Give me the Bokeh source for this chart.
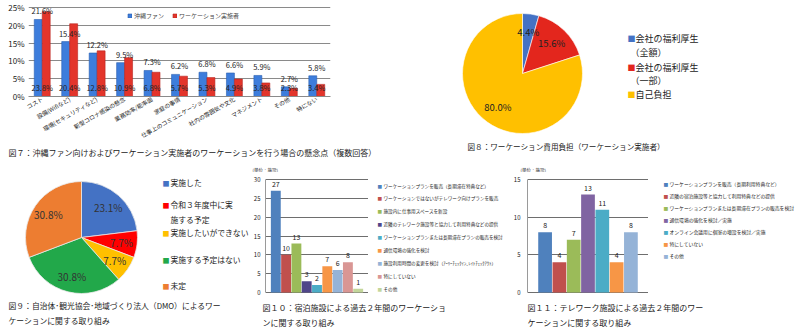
import numpy as np
import pandas as pd
from bokeh.plotting import figure
from bokeh.models import (ColumnDataSource, FactorRange, Range1d, Label, Legend, LegendItem,
                          FixedTicker, PrintfTickFormatter)
from bokeh.transform import dodge
from bokeh.layouts import column, row
from bokeh.embed import file_html
from bokeh.resources import INLINE
from bokeh.core.properties import value

JP = "Noto Sans CJK JP"

# ---------------- data ----------------
# Fig 7
concern_cats = ["コスト", "設備(Wifiなど)", "環境(セキュリティなど)", "新型コロナ感染の懸念", "業務効率/能率面",
                "家庭の事情", "仕事上のコミュニケーション", "社内の雰囲気や文化", "マネジメント", "その他", "特にない"]
okinawa_fan = [21.6, 15.4, 12.2, 9.5, 7.3, 6.2, 6.8, 6.6, 5.9, 2.7, 5.8]
workation_doers = [23.8, 20.4, 12.8, 10.9, 6.8, 5.7, 5.3, 4.9, 3.8, 2.3, 3.4]
series_names = ["沖縄ファン", "ワーケーション実施者"]
pct_ticks = [0, 5, 10, 15, 20, 25]
caption7 = "図７：沖縄ファン向けおよびワーケーション実施者のワーケーションを行う場合の懸念点（複数回答）"

# Fig 8
cost_labels = ["会社の福利厚生（全額）", "会社の福利厚生（一部）", "自己負担"]
cost_legend_lines = [["会社の福利厚生", "（全額）"], ["会社の福利厚生", "（一部）"], ["自己負担"]]
cost_share = [4.4, 15.6, 80.0]
caption8 = "図８：ワーケーション費用負担（ワーケーション実施者）"

# Fig 9
dmo_labels = ["実施した", "令和３年度中に実施する予定", "実施したいができない", "実施する予定はない", "未定"]
dmo_legend_lines = [["実施した"], ["令和３年度中に実", "施する予定"], ["実施したいができない"], ["実施する予定はない"], ["未定"]]
dmo_share = [23.1, 7.7, 7.7, 30.8, 30.8]
caption9 = ["図９：自治体･観光協会･地域づくり法人（DMO）によるワー", "ケーションに関する取り組み"]

# Fig 10
hotel_actions = ["ワーケーションプランを販売（長期滞在特典など）",
                 "ワーケーションではないがテレワーク向けプランを販売",
                 "施設内に仕事用スペースを新設",
                 "近隣のテレワーク施設等と協力して利用特典などの提供",
                 "ワーケーションプランまたは長期滞在プランの販売を検討",
                 "通信環境の強化を検討",
                 "施設利用時間の変更を検討（ｱｰﾘｰﾁｪｯｸｲﾝ､ﾚｲﾄﾁｪｯｸｱｳﾄ）",
                 "特にしていない",
                 "その他"]
hotel_counts = [27, 10, 13, 3, 2, 7, 6, 8, 1]
hotel_ticks = [0, 5, 10, 15, 20, 25, 30]
caption10 = ["図１０：宿泊施設による過去２年間のワーケーショ", "ンに関する取り組み"]

# Fig 11
telework_actions = ["ワーケーションプランを販売（長期利用特典など）",
                    "近隣の宿泊施設等と協力して利用特典などの提供",
                    "ワーケーションプランまたは長期滞在プランの販売を検討",
                    "通信環境の強化を検討／実施",
                    "オンライン会議用に個室の増設を検討／実施",
                    "特にしていない",
                    "その他"]
telework_counts = [8, 4, 7, 13, 11, 4, 8]
telework_ticks = [0, 5, 10, 15]
caption11 = ["図１１：テレワーク施設による過去２年間のワー", "ケーションに関する取り組み"]
unit_note = "(単位：施設)"

# ---------------- styles ----------------
C7 = ["#3d7ddc", "#e3352b"]
C7_EDGE = ["#2a5fb0", "#b82520"]
C8 = ["#4472c4", "#e3261d", "#ffc000"]
C9 = ["#4472c4", "#ff0000", "#ffc000", "#22a84a", "#ed7d31"]
C10 = ["#4f81bd", "#c0504d", "#9bbb59", "#4f4689", "#4bacc6", "#f79646", "#95b3d7", "#d99694", "#c3d69b"]
C11 = ["#4f81bd", "#c0504d", "#9bbb59", "#8064a2", "#4bacc6", "#f79646", "#95b3d7"]
TXT = "#222222"
GRID = "#8a8a8a"


def make_fig(w, h, geom, **kw):
    left, top, fw, fh = geom
    p = figure(width=w, height=h, output_backend="svg", toolbar_location=None,
               min_border_left=left, min_border_top=top,
               min_border_right=w - left - fw, min_border_bottom=h - top - fh, **kw)
    p.outline_line_color = None
    return p


def text_fig(w, h):
    # a plain canvas whose frame is the whole figure, for captions / legends
    p = make_fig(w, h, (0, 0, w, h), x_range=Range1d(0, w), y_range=Range1d(0, h),
                 x_axis_location=None, y_axis_location=None)
    p.grid.visible = False
    return p


def clabel(p, geom, cx, cy, text, size, color=TXT, align="left"):
    left, top, fw, fh = geom
    p.add_layout(Label(x=cx - left, y=top + fh - cy, x_units="screen", y_units="screen",
                       text=text, text_font=JP, text_font_size=f"{size}px", text_color=color,
                       text_align=align, text_baseline="middle"))


def tlabel(p, cx, cy, text, size, color=TXT):
    clabel(p, (0, 0, p.width, p.height), cx, cy, text, size, color)


def style_yaxis(p, ticks, size, standoff, line_color):
    p.yaxis.ticker = FixedTicker(ticks=ticks)
    p.yaxis.bounds = (ticks[0], ticks[-1])
    p.yaxis.axis_line_color = line_color
    p.yaxis.major_tick_line_color = None
    p.yaxis.minor_tick_line_color = None
    p.yaxis.major_tick_out = 0
    p.yaxis.major_tick_in = 0
    p.yaxis.minor_tick_out = 0
    p.yaxis.major_label_text_font_size = f"{size}px"
    p.yaxis.major_label_text_font = JP
    p.yaxis.major_label_text_color = TXT
    p.yaxis.major_label_standoff = standoff
    p.ygrid.ticker = FixedTicker(ticks=ticks)


def wrap(x):
    return column(x)


# ---------------- Fig 7 ----------------
ppu7 = 92 / (pct_ticks[-1] - pct_ticks[0])
G7 = (28, 3, 302, 96)
src7 = ColumnDataSource(dict(cat=concern_cats, fan=okinawa_fan, doer=workation_doers,
                             fan_txt=[f"{v:.1f}%" for v in okinawa_fan],
                             doer_txt=[f"{v:.1f}%" for v in workation_doers]))
p7 = make_fig(420, 146, G7, x_range=FactorRange(factors=concern_cats),
              y_range=Range1d(pct_ticks[0], pct_ticks[-1] + 4 / ppu7))
rb = p7.vbar(x=dodge("cat", -0.145, range=p7.x_range), top="fan", width=0.29, source=src7,
             fill_color=C7[0], line_color=C7_EDGE[0], line_width=0.6)
rr = p7.vbar(x=dodge("cat", 0.145, range=p7.x_range), top="doer", width=0.29, source=src7,
             fill_color=C7[1], line_color=C7_EDGE[1], line_width=0.6)
p7.text(x="cat", y="fan", text="fan_txt", source=src7, text_align="center", text_baseline="bottom",
        y_offset=-3, text_font=value(JP), text_font_size="7.5px", text_color=TXT)
p7.text(x="cat", y=2.6, text="doer_txt", source=src7, text_align="center", text_baseline="middle",
        text_font=value(JP), text_font_size="7.5px", text_color=TXT)
style_yaxis(p7, pct_ticks, 8, 4, None)
p7.yaxis.formatter = PrintfTickFormatter(format="%d%%")
p7.ygrid.grid_line_color = GRID
p7.xgrid.grid_line_color = None
p7.xaxis.axis_line_color = GRID
p7.xaxis.major_tick_line_color = None
p7.xaxis.major_tick_out = 0
p7.xaxis.major_tick_in = 0
p7.xaxis.major_label_orientation = 0.52
p7.xaxis.major_label_text_font_size = "5.8px"
p7.xaxis.major_label_text_font = JP
p7.xaxis.major_label_text_color = TXT
p7.xaxis.major_label_standoff = 2
leg7 = Legend(items=[LegendItem(label=series_names[0], renderers=[rb]),
                     LegendItem(label=series_names[1], renderers=[rr])],
              orientation="horizontal", location=(99, 76), glyph_width=5, glyph_height=5,
              label_text_font_size="6px", label_text_font=JP, label_standoff=2, spacing=8,
              padding=0, margin=0, background_fill_alpha=0, border_line_alpha=0, label_height=5)
p7.add_layout(leg7)

cap7 = text_fig(420, 16)
tlabel(cap7, 8, 6, caption7, 8)


# ---------------- pies ----------------
def pie_source(shares, colors, r_lab):
    df = pd.DataFrame(dict(share=shares, color=colors))
    frac = df.share / df.share.sum()
    cum = frac.cumsum()
    df["start"] = np.pi / 2 - 2 * np.pi * cum
    df["end"] = np.pi / 2 - 2 * np.pi * (cum - frac)
    mid = (df.start + df.end) / 2
    df["lx"] = r_lab * np.cos(mid)
    df["ly"] = r_lab * np.sin(mid)
    df["txt"] = [f"{v:.1f}%" for v in df.share]
    return ColumnDataSource(df)


def pie_fig(w, h, cx, cy, r):
    # cx, cy, r: pie centre and radius in canvas pixels; frame = whole canvas
    p = make_fig(w, h, (0, 0, w, h), x_range=Range1d(-cx / r, (w - cx) / r),
                 y_range=Range1d(-(h - cy) / r, cy / r),
                 x_axis_location=None, y_axis_location=None)
    p.grid.visible = False
    return p


# Fig 8
p8 = pie_fig(380, 162, 102, 73, 60)
src8 = pie_source(cost_share, C8, 0.7)
p8.wedge(x=0, y=0, radius=1, start_angle="start", end_angle="end", fill_color="color",
         line_color="white", line_width=0.6, source=src8)
p8.text(x="lx", y="ly", text="txt", source=src8, text_align="center", text_baseline="middle",
        text_font=value(JP), text_font_size="9.5px", text_color=TXT)
rows8 = [38, 52, 67, 80, 94]
k = 0
for lines, col in zip(cost_legend_lines, C8):
    for j, line in enumerate(lines):
        if j == 0:
            tlabel(p8, 207, rows8[k], "■", 8, color=col)
            tlabel(p8, 215, rows8[k], line, 9)
        else:
            tlabel(p8, 210, rows8[k], line, 9)
        k += 1
tlabel(p8, 47, 146, caption8, 7.6)

# Fig 9
p9 = pie_fig(250, 171, 81, 75, 56)
src9 = pie_source(dmo_share, C9, 0.72)
p9.wedge(x=0, y=0, radius=1, start_angle="start", end_angle="end", fill_color="color",
         line_color="#e8e8e8", line_width=0.8, source=src9)
p9.text(x="lx", y="ly", text="txt", source=src9, text_align="center", text_baseline="middle",
        text_font=value(JP), text_font_size="10px", text_color="#333333")
rows9 = [20, 42, 57, 70, 97, 123]
k = 0
for lines, col in zip(dmo_legend_lines, C9):
    for j, line in enumerate(lines):
        if j == 0:
            tlabel(p9, 162, rows9[k], "■", 7, color=col)
        tlabel(p9, 170, rows9[k], line, 7.8)
        k += 1
tlabel(p9, 8, 143, caption9[0], 7.8)
tlabel(p9, 8, 158, caption9[1], 7.8)


# ---------------- Fig 10, 11 ----------------
def count_bars(w, left, fw, h, actions, counts, colors, ticks, pad, top_px, bot_px, standoff):
    ppu = (h - top_px - bot_px) / (ticks[-1] - ticks[0])
    src = ColumnDataSource(dict(action=actions, count=counts, color=colors,
                                txt=[str(v) for v in counts]))
    p = make_fig(w, h, (left, 0, fw, h),
                 x_range=FactorRange(factors=actions, range_padding=pad, range_padding_units="absolute"),
                 y_range=Range1d(ticks[0] - bot_px / ppu, ticks[-1] + top_px / ppu),
                 x_axis_location=None)
    p.vbar(x="action", top="count", width=0.96, fill_color="color", line_color=None, source=src)
    p.text(x="action", y="count", text="txt", source=src, text_align="center", text_baseline="bottom",
           y_offset=-4, text_font=value(JP), text_font_size="7px", text_color=TXT)
    style_yaxis(p, ticks, 6, standoff, "#9a9a9a")
    p.ygrid.grid_line_color = "#6e6e6e"
    p.xgrid.grid_line_color = None
    return p


def legend_fig(w, h, labels, colors, sq_x, y0, pitch, size):
    p = text_fig(w, h)
    for i, (lab, col) in enumerate(zip(labels, colors)):
        tlabel(p, sq_x, y0 + pitch * i, "■", size, color=col)
        tlabel(p, sq_x + 6, y0 + pitch * i, lab, size)
    return p


c10 = count_bars(118, 13, 105, 124, hotel_actions, hotel_counts, C10, hotel_ticks, 0.5, 7, 4, 5)
l10 = legend_fig(140, 124, hotel_actions, C10, 9, 13, 12.9, 4.6)
c11 = count_bars(140, 19, 121, 124, telework_actions, telework_counts, C11, telework_ticks, 0.73, 7, 4, 7)
l11 = legend_fig(152, 124, telework_actions, C11, 15, 11, 12, 4.8)

notes = text_fig(550, 10)
tlabel(notes, 2, 5, unit_note, 4.5)
tlabel(notes, 270, 5, unit_note, 4.5)

caps = text_fig(550, 37)
tlabel(caps, 12, 11, caption10[0], 8)
tlabel(caps, 12, 26, caption10[1], 8)
tlabel(caps, 277, 11, caption11[0], 8)
tlabel(caps, 277, 26, caption11[1], 8)

top = row(column(wrap(p7), wrap(cap7)), wrap(p8), spacing=0)
block = column(wrap(notes), wrap(row(wrap(c10), wrap(l10), wrap(c11), wrap(l11), spacing=0)), wrap(caps),
               spacing=0)
bottom = row(wrap(p9), wrap(block), spacing=0)
layout = column(wrap(top), wrap(bottom), spacing=0)
open("out.html", "w").write(file_html(layout, INLINE))
